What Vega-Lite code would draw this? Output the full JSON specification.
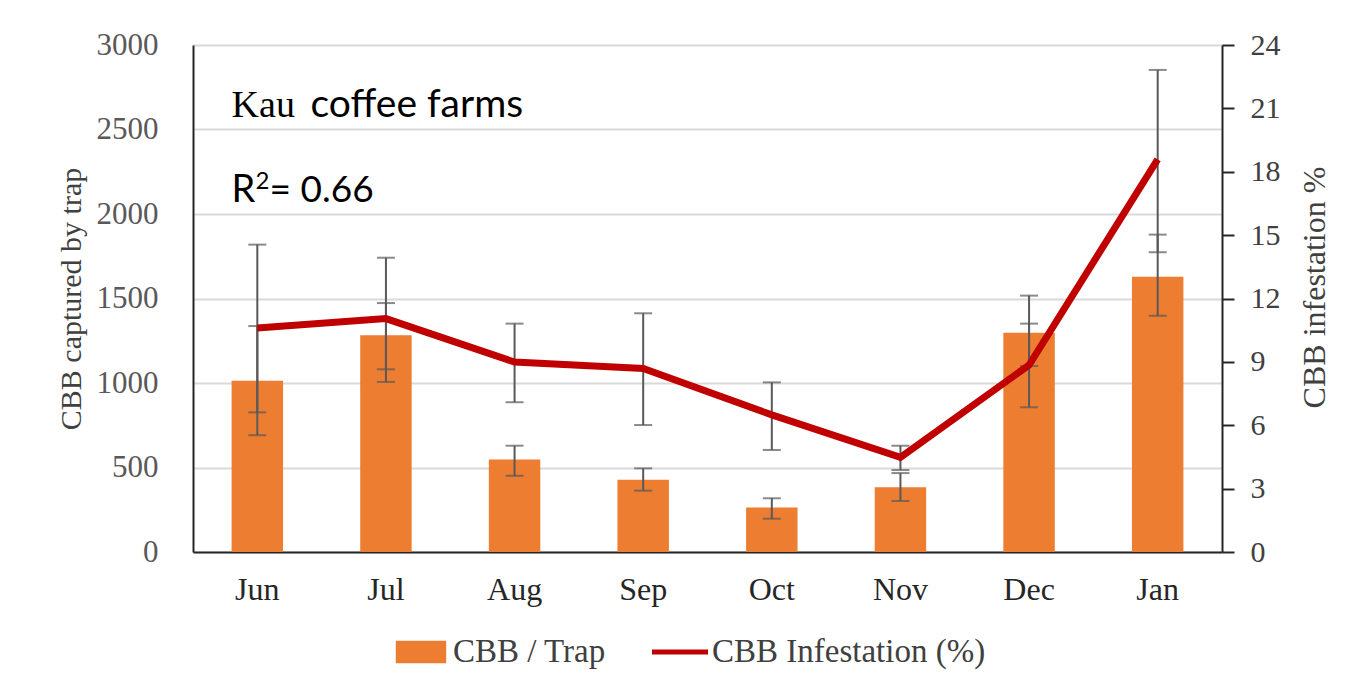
{
  "$schema": "https://vega.github.io/schema/vega-lite/v6.json",
  "width": 1029,
  "height": 507,
  "autosize": {"type": "none"},
  "padding": {"left": 193, "top": 45, "right": 138, "bottom": 137},
  "background": "white",
  "config": {"view": {"stroke": null}, "font": "Liberation Serif"},
  "data": {
    "values": [
      {"month": "Jun", "trap": 1014, "trap_lo": 691, "trap_hi": 1337, "inf": 10.6, "inf_lo": 6.61, "inf_hi": 14.55},
      {"month": "Jul", "trap": 1282, "trap_lo": 1081, "trap_hi": 1473, "inf": 11.05, "inf_lo": 8.05, "inf_hi": 13.93},
      {"month": "Aug", "trap": 548, "trap_lo": 451, "trap_hi": 629, "inf": 8.99, "inf_lo": 7.09, "inf_hi": 10.81},
      {"month": "Sep", "trap": 428, "trap_lo": 363, "trap_hi": 495, "inf": 8.69, "inf_lo": 6.01, "inf_hi": 11.3},
      {"month": "Oct", "trap": 264, "trap_lo": 197, "trap_hi": 318, "inf": 6.49, "inf_lo": 4.83, "inf_hi": 8.03},
      {"month": "Nov", "trap": 383, "trap_lo": 302, "trap_hi": 467, "inf": 4.48, "inf_lo": 3.88, "inf_hi": 5.03},
      {"month": "Dec", "trap": 1298, "trap_lo": 1101, "trap_hi": 1517, "inf": 8.85, "inf_lo": 6.85, "inf_hi": 10.81},
      {"month": "Jan", "trap": 1629, "trap_lo": 1398, "trap_hi": 1878, "inf": 18.59, "inf_lo": 14.19, "inf_hi": 22.82}
    ]
  },
  "encoding": {
    "x": {
      "field": "month",
      "type": "nominal",
      "sort": ["Jun", "Jul", "Aug", "Sep", "Oct", "Nov", "Dec", "Jan"],
      "scale": {"paddingInner": 0.6, "paddingOuter": 0.3},
      "axis": {
        "title": null,
        "labelAngle": 0,
        "ticks": false,
        "tickSize": 0,
        "domainColor": "#262626",
        "domainWidth": 2,
        "labelFont": "Liberation Serif",
        "labelFontSize": 32,
        "labelPadding": 22,
        "labelColor": "#262626"
      }
    }
  },
  "layer": [
    {
      "layer": [
        {
          "mark": {"type": "bar", "fill": "#ED7D31"},
          "encoding": {
            "y": {
              "field": "trap",
              "type": "quantitative",
              "title": "CBB captured by trap",
              "scale": {"domain": [0, 3000], "nice": false},
              "axis": {
                "orient": "left",
                "values": [0, 500, 1000, 1500, 2000, 2500, 3000],
                "format": "d",
                "grid": true,
                "gridColor": "#d9d9d9",
                "gridWidth": 2,
                "ticks": false,
                "tickSize": 0,
                "labelPadding": 35,
                "labelFont": "Liberation Serif",
                "labelFontSize": 31,
                "labelColor": "#595959",
                "domainColor": "#262626",
                "domainWidth": 2,
                "titleFont": "Liberation Serif",
                "titleFontSize": 30,
                "titleFontWeight": "normal",
                "titleColor": "#404040",
                "titlePadding": 10
              }
            },
            "color": {
              "datum": "CBB / Trap",
              "type": "nominal",
              "scale": {"domain": ["CBB / Trap", "CBB Infestation (%)"], "range": ["#ED7D31", "#C00000"]},
              "legend": {
                "orient": "none",
                "legendX": 200,
                "legendY": 579,
                "direction": "horizontal",
                "title": null,
                "labelFont": "Liberation Serif",
                "labelFontSize": 33,
                "labelColor": "#404040",
                "labelLimit": 500,
                "symbolSize": 3136,
                "labelOffset": 4,
                "columnPadding": 46,
                "encode": {
                  "symbols": {
                    "update": {
                      "shape": {"signal": "datum.value === 'CBB / Trap' ? 'M-0.9,-0.4H0.9V0.4H-0.9Z' : 'M-1,-0.09H1V0.09H-1Z'"},
                      "fill": {"signal": "datum.value === 'CBB / Trap' ? '#ED7D31' : '#C00000'"},
                      "stroke": {"value": "transparent"},
                      "strokeWidth": {"value": 0},
                      "opacity": {"value": 1}
                    }
                  }
                }
              }
            }
          }
        },
        {
          "mark": {"type": "errorbar", "ticks": {"size": 18, "thickness": 2, "color": "#595959"}, "rule": {"strokeWidth": 2, "color": "#595959"}},
          "encoding": {
            "y": {"field": "trap_lo", "type": "quantitative", "title": "CBB captured by trap"},
            "y2": {"field": "trap_hi"}
          }
        },
        {
          "data": {"values": [{}]},
          "mark": {"type": "text", "align": "left", "baseline": "alphabetic", "font": "Liberation Serif", "fontSize": 38, "color": "#000000"},
          "encoding": {
            "x": {"datum": "Jun", "type": "nominal", "bandPosition": 0},
            "y": {"datum": 2576, "type": "quantitative", "title": "CBB captured by trap"},
            "text": {"value": "Kau"}
          }
        },
        {
          "data": {"values": [{}]},
          "mark": {"type": "text", "align": "left", "baseline": "alphabetic", "font": "Lato", "fontSize": 39, "color": "#000000", "dx": 79},
          "encoding": {
            "x": {"datum": "Jun", "type": "nominal", "bandPosition": 0},
            "y": {"datum": 2576, "type": "quantitative", "title": "CBB captured by trap"},
            "text": {"value": "coffee farms"}
          }
        },
        {
          "data": {"values": [{}]},
          "mark": {"type": "text", "align": "left", "baseline": "alphabetic", "font": "Lato", "fontSize": 38, "color": "#000000"},
          "encoding": {
            "x": {"datum": "Jun", "type": "nominal", "bandPosition": 0},
            "y": {"datum": 2073, "type": "quantitative", "title": "CBB captured by trap"},
            "text": {"value": "R"}
          }
        },
        {
          "data": {"values": [{}]},
          "mark": {"type": "text", "align": "left", "baseline": "alphabetic", "font": "Lato", "fontSize": 24, "color": "#000000", "dx": 24, "dy": -13},
          "encoding": {
            "x": {"datum": "Jun", "type": "nominal", "bandPosition": 0},
            "y": {"datum": 2073, "type": "quantitative", "title": "CBB captured by trap"},
            "text": {"value": "2"}
          }
        },
        {
          "data": {"values": [{}]},
          "mark": {"type": "text", "align": "left", "baseline": "alphabetic", "font": "Lato", "fontSize": 37, "color": "#000000", "dx": 38},
          "encoding": {
            "x": {"datum": "Jun", "type": "nominal", "bandPosition": 0},
            "y": {"datum": 2073, "type": "quantitative", "title": "CBB captured by trap"},
            "text": {"value": "= 0.66"}
          }
        }
      ]
    },
    {
      "layer": [
        {
          "mark": {"type": "errorbar", "ticks": {"size": 18, "thickness": 2, "color": "#595959"}, "rule": {"strokeWidth": 2, "color": "#595959"}},
          "encoding": {
            "y": {"field": "inf_lo", "type": "quantitative", "title": "CBB infestation %"},
            "y2": {"field": "inf_hi"}
          }
        },
        {
          "mark": {"type": "line", "strokeWidth": 7},
          "encoding": {
            "y": {
              "field": "inf",
              "type": "quantitative",
              "title": "CBB infestation %",
              "scale": {"domain": [0, 24], "nice": false},
              "axis": {
                "orient": "right",
                "values": [0, 3, 6, 9, 12, 15, 18, 21, 24],
                "grid": false,
                "ticks": true,
                "tickSize": 12,
                "tickWidth": 2,
                "tickColor": "#262626",
                "labelPadding": 16,
                "labelFont": "Liberation Serif",
                "labelFontSize": 30,
                "labelColor": "#404040",
                "domainColor": "#262626",
                "domainWidth": 2,
                "titleFont": "Liberation Serif",
                "titleFontSize": 32,
                "titleFontWeight": "normal",
                "titleColor": "#404040",
                "titleAngle": 270,
                "titleBaseline": "top",
                "titleY": 242,
                "titlePadding": 19
              }
            },
            "color": {"datum": "CBB Infestation (%)", "type": "nominal"}
          }
        }
      ]
    }
  ],
  "resolve": {"scale": {"y": "independent"}}
}
